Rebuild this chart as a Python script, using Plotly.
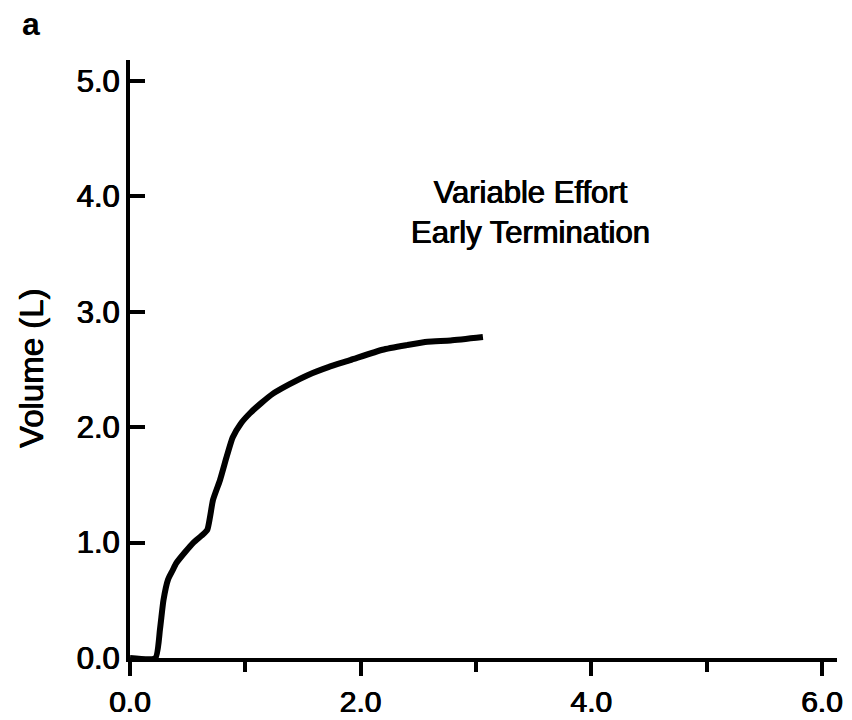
import plotly.graph_objects as go

# Spirometry trace: time (s) vs expired volume (L)
time_s = [0.0, 0.22, 0.26, 0.29, 0.33, 0.37, 0.40, 0.48, 0.55, 0.62, 0.67,
          0.72, 0.78, 0.84, 0.89, 0.96, 1.04, 1.14, 1.24, 1.38, 1.54, 1.72,
          1.91, 2.19, 2.40, 2.58, 2.78, 3.06]
volume_l = [0.0, 0.0, 0.25, 0.50, 0.68, 0.76, 0.82, 0.92, 1.00, 1.06, 1.11,
            1.37, 1.54, 1.75, 1.91, 2.03, 2.12, 2.21, 2.29, 2.37, 2.45, 2.52,
            2.58, 2.67, 2.71, 2.74, 2.75, 2.78]

x_ticks = [0, 2, 4, 6]
y_ticks = [0, 1, 2, 3, 4, 5]

FONT = "Liberation Sans, Arial, sans-serif"
HEAVY = "0.5px 0 0 black, -0.5px 0 0 black"   # thickens the printed glyphs a little

PLOT_W = 852 - 130 - 15
PLOT_H = 720 - 60 - 62

fig = go.Figure()
fig.add_trace(go.Scatter(
    x=time_s, y=volume_l, mode="lines",
    line=dict(color="black", width=6, shape="spline", smoothing=0.5),
    showlegend=False, hoverinfo="skip",
))

fig.add_annotation(
    x=3.47, y=3.86, xref="x", yref="y",
    text="Variable Effort<br>Early Termination",
    showarrow=False, align="center",
    font=dict(family=FONT, size=31, color="black", shadow=HEAVY),
)
# panel letter
fig.add_annotation(
    xref="paper", yref="paper", xanchor="left", yanchor="top",
    x=(20 - 130) / PLOT_W, y=1 + (60 - 4) / PLOT_H,
    text="<b>a</b>", showarrow=False,
    font=dict(family=FONT, size=32, color="black"),
)
# y-axis title
fig.add_annotation(
    xref="paper", yref="paper", xanchor="center", yanchor="middle",
    x=(31 - 130) / PLOT_W, y=(658 - 368) / PLOT_H,
    text="Volume (L)", textangle=-90, showarrow=False,
    font=dict(family=FONT, size=33, color="black", shadow=HEAVY),
)

fig.update_layout(
    width=852, height=720,
    margin=dict(l=130, r=15, t=60, b=62, autoexpand=False),
    paper_bgcolor="white", plot_bgcolor="white",
    font=dict(family=FONT, size=30, color="black"),
)

fig.update_xaxes(
    range=[0, 6.13], tickvals=x_ticks, tickformat=".1f", automargin=False,
    showline=True, linecolor="black", linewidth=4, mirror=False,
    ticks="outside", ticklen=14, tickwidth=4, tickcolor="black",
    minor=dict(dtick=1, tick0=0, ticks="outside", ticklen=10,
               tickwidth=4, tickcolor="black"),
    showgrid=False, zeroline=False,
    tickfont=dict(family=FONT, size=30, color="black", shadow=HEAVY),
)
fig.update_yaxes(
    range=[0, 5.18], tickvals=y_ticks, tickformat=".1f", automargin=False,
    showline=True, linecolor="black", linewidth=4, mirror=False,
    ticks="inside", ticklen=15, tickwidth=4, tickcolor="black",
    showgrid=False, zeroline=False,
    tickfont=dict(family=FONT, size=31, color="black", shadow=HEAVY),
)

fig.write_html("out.html")
